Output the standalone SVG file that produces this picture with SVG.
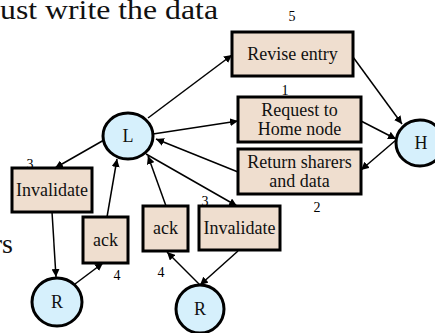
<svg xmlns="http://www.w3.org/2000/svg" width="435" height="333" viewBox="0 0 435 333">
<style>
  .box { fill: #EFDECF; stroke: #000; stroke-width: 3; }
  .node { fill: #D6F0FC; stroke: #000; stroke-width: 3; }
  .lbl { font-family: "Liberation Serif", "Times New Roman", serif; font-size: 18px; fill: #111; text-anchor: middle; }
  .num { font-family: "Liberation Serif", "Times New Roman", serif; font-size: 14px; fill: #000; text-anchor: middle; }
  .big { font-family: "Liberation Serif", "Times New Roman", serif; font-size: 28px; fill: #111; }
  .conn line { stroke: #000; stroke-width: 1.5; marker-end: url(#arr); }
</style>
<defs>
  <marker id="arr" viewBox="0 0 10 10" refX="10" refY="5" markerWidth="8" markerHeight="8" markerUnits="userSpaceOnUse" orient="auto">
    <path d="M0,0 L10,5 L0,10 z" fill="#000"/>
  </marker>
</defs>
<rect width="435" height="333" fill="#fff"/>
<text class="big" x="0" y="19" textLength="218" lengthAdjust="spacingAndGlyphs">ust write the data</text>
<text class="big" x="13" y="253" text-anchor="end" font-size="30">rs</text>

<g class="conn">
  <line x1="148" y1="118" x2="232" y2="55"/>
  <line x1="353" y1="57" x2="402" y2="124"/>
  <line x1="153" y1="134" x2="238" y2="121"/>
  <line x1="361" y1="121" x2="396" y2="139"/>
  <line x1="396" y1="140" x2="361" y2="170"/>
  <line x1="238" y1="172" x2="156" y2="139"/>
  <line x1="146" y1="154" x2="237" y2="206"/>
  <line x1="104" y1="140" x2="55" y2="168"/>
  <line x1="52" y1="212" x2="56" y2="277"/>
  <line x1="75" y1="284" x2="103" y2="263"/>
  <line x1="107" y1="217" x2="117" y2="159"/>
  <line x1="166" y1="206" x2="148" y2="156"/>
  <line x1="200" y1="285" x2="167" y2="252"/>
  <line x1="238" y1="251" x2="200" y2="285"/>
</g>

<g id="node-L"><ellipse class="node" cx="128" cy="136" rx="25" ry="23"/><text class="lbl" x="128" y="142">L</text></g>
<g id="node-H"><ellipse class="node" cx="420" cy="143" rx="24" ry="23"/><text class="lbl" x="421" y="149">H</text></g>
<g id="node-R1"><ellipse class="node" cx="57" cy="302" rx="25" ry="24"/><text class="lbl" x="57" y="308">R</text></g>
<g id="node-R2"><ellipse class="node" cx="200" cy="309" rx="24" ry="24"/><text class="lbl" x="200" y="315">R</text></g>

<g id="node-revise"><rect class="box" x="232" y="32" width="121" height="44"/><text class="lbl" x="292.5" y="60">Revise entry</text><text class="num" x="292" y="21">5</text></g>
<g id="node-request"><rect class="box" x="238" y="97" width="123" height="45"/><text class="lbl" x="299.5" y="116">Request to</text><text class="lbl" x="299.5" y="135">Home node</text><text class="num" x="285" y="95">1</text></g>
<g id="node-return"><rect class="box" x="238" y="149" width="123" height="45"/><text class="lbl" x="299.5" y="168">Return sharers</text><text class="lbl" x="299.5" y="187">and data</text><text class="num" x="317" y="212">2</text></g>
<g id="node-inv1"><rect class="box" x="12" y="168" width="80" height="44"/><text class="lbl" x="52" y="196">Invalidate</text><text class="num" x="30" y="169">3</text></g>
<g id="node-inv2"><rect class="box" x="199" y="206" width="81" height="44"/><text class="lbl" x="239.5" y="234">Invalidate</text><text class="num" x="205" y="206">3</text></g>
<g id="node-ack1"><rect class="box" x="83" y="217" width="45" height="46"/><text class="lbl" x="105.5" y="246">ack</text><text class="num" x="117" y="280">4</text></g>
<g id="node-ack2"><rect class="box" x="143" y="206" width="45" height="45"/><text class="lbl" x="165.5" y="234">ack</text><text class="num" x="161" y="277">4</text></g>
</svg>
